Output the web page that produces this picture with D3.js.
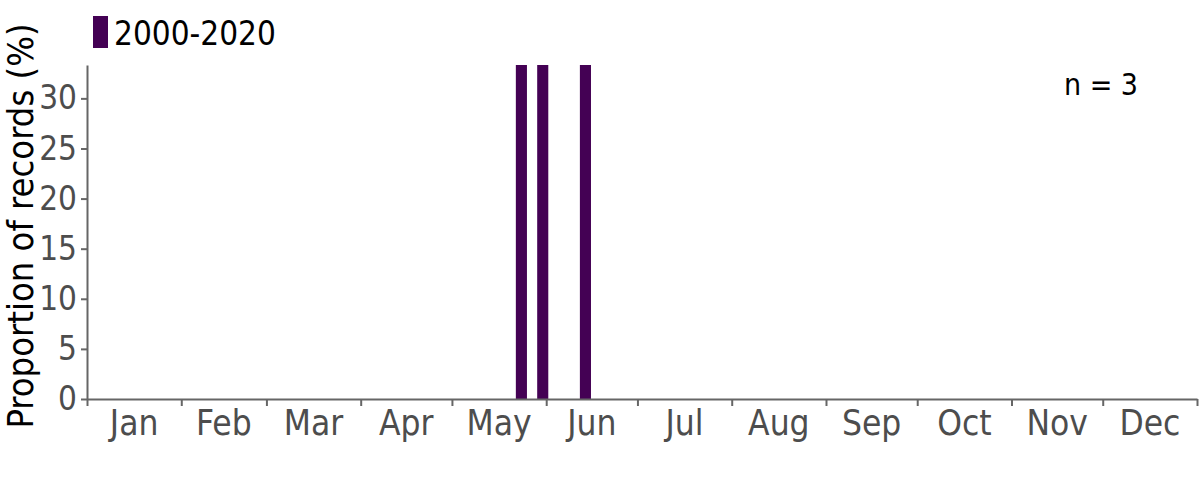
<!DOCTYPE html>
<html>
<head>
<meta charset="utf-8">
<script src="https://cdn.jsdelivr.net/npm/d3@7"></script>
<style>
  body { margin: 0; background: #fff; }
  text { font-family: "DejaVu Sans Condensed", "DejaVu Sans", sans-serif; }
</style>
</head>
<body>
<div id="chart"></div>
<script>
const chartWidth = 1200;
const chartHeight = 480;

const margin = { top: 65, bottom: 81, left: 87, right: 3 };

// month names and their lengths (non-leap year)
const months = ["Jan", "Feb", "Mar", "Apr", "May", "Jun", "Jul", "Aug", "Sep", "Oct", "Nov", "Dec"];
const monthDays = [31, 28, 31, 30, 31, 30, 31, 31, 30, 31, 30, 31];

// weekly bins (0-51) that hold records, with proportion of records (%)
const weeks = [20, 21, 23];
const proportions = [33.33, 33.33, 33.33];

const yTicks = [0, 5, 10, 15, 20, 25, 30];
const seriesName = "2000-2020";
const nRecords = 3;

const barColour = "#440154";

const svg = d3.select("#chart")
  .append("svg")
  .attr("width", chartWidth)
  .attr("height", chartHeight);

// month boundaries in day-of-year
const bounds = [0];
monthDays.forEach((d, i) => bounds.push(bounds[i] + d));

const xDay = d3.scaleLinear()
  .domain([0, 365])
  .range([margin.left, chartWidth - margin.right]);

const xWeek = d3.scaleLinear()
  .domain([0, 52])
  .range([margin.left, chartWidth - margin.right]);

const yScale = d3.scaleLinear()
  .domain([0, 33.33])
  .range([chartHeight - margin.bottom, margin.top]);

const axisColour = "#666666";
const labelColour = "#4d4d4d";

// bars
const binW = xWeek(1) - xWeek(0);
svg.selectAll("rect.bar")
  .data(weeks.map((w, i) => ({ week: w, value: proportions[i] })))
  .enter().append("rect")
  .attr("class", "bar")
  .attr("x", d => xWeek(d.week) + binW * 0.09)
  .attr("width", binW * 0.52)
  .attr("y", d => yScale(d.value))
  .attr("height", d => yScale(0) - yScale(d.value))
  .attr("fill", barColour);

// x axis: ticks on month boundaries, labels mid-month
const xAxis = d3.axisBottom(xDay)
  .tickValues(bounds)
  .tickSize(7)
  .tickSizeOuter(0)
  .tickFormat("");

const gx = svg.append("g")
  .attr("transform", "translate(0," + yScale(0) + ")")
  .call(xAxis);
gx.selectAll("path, line").attr("stroke", axisColour).attr("stroke-width", 2);

gx.selectAll("text.month")
  .data(months)
  .enter().append("text")
  .attr("class", "month")
  .attr("x", (d, i) => xDay((bounds[i] + bounds[i + 1]) / 2))
  .attr("y", 36)
  .attr("text-anchor", "middle")
  .attr("fill", labelColour)
  .style("font-size", "35px")
  .text(d => d);

// y axis
const yAxis = d3.axisLeft(yScale)
  .tickValues(yTicks)
  .tickSize(6)
  .tickSizeOuter(0);

const gy = svg.append("g")
  .attr("transform", "translate(" + margin.left + ",0)")
  .call(yAxis);
gy.selectAll("path, line").attr("stroke", axisColour).attr("stroke-width", 2);
gy.selectAll("text")
  .attr("fill", labelColour)
  .attr("x", -10)
  .style("font-size", "33px");

// y title
svg.append("text")
  .attr("transform", "translate(33," + 226 + ") rotate(-90)")
  .attr("text-anchor", "middle")
  .attr("fill", "#000")
  .style("font-size", "36px")
  .text("Proportion of records (%)");

// legend
svg.append("rect")
  .attr("x", 93).attr("y", 16)
  .attr("width", 15).attr("height", 32)
  .attr("fill", barColour);
svg.append("text")
  .attr("x", 114).attr("y", 45)
  .attr("fill", "#000")
  .style("font-size", "33px")
  .text(seriesName);

// sample size
svg.append("text")
  .attr("x", 1138).attr("y", 95)
  .attr("text-anchor", "end")
  .attr("fill", "#000")
  .style("font-size", "30px")
  .text("n = " + nRecords);
</script>
</body>
</html>
